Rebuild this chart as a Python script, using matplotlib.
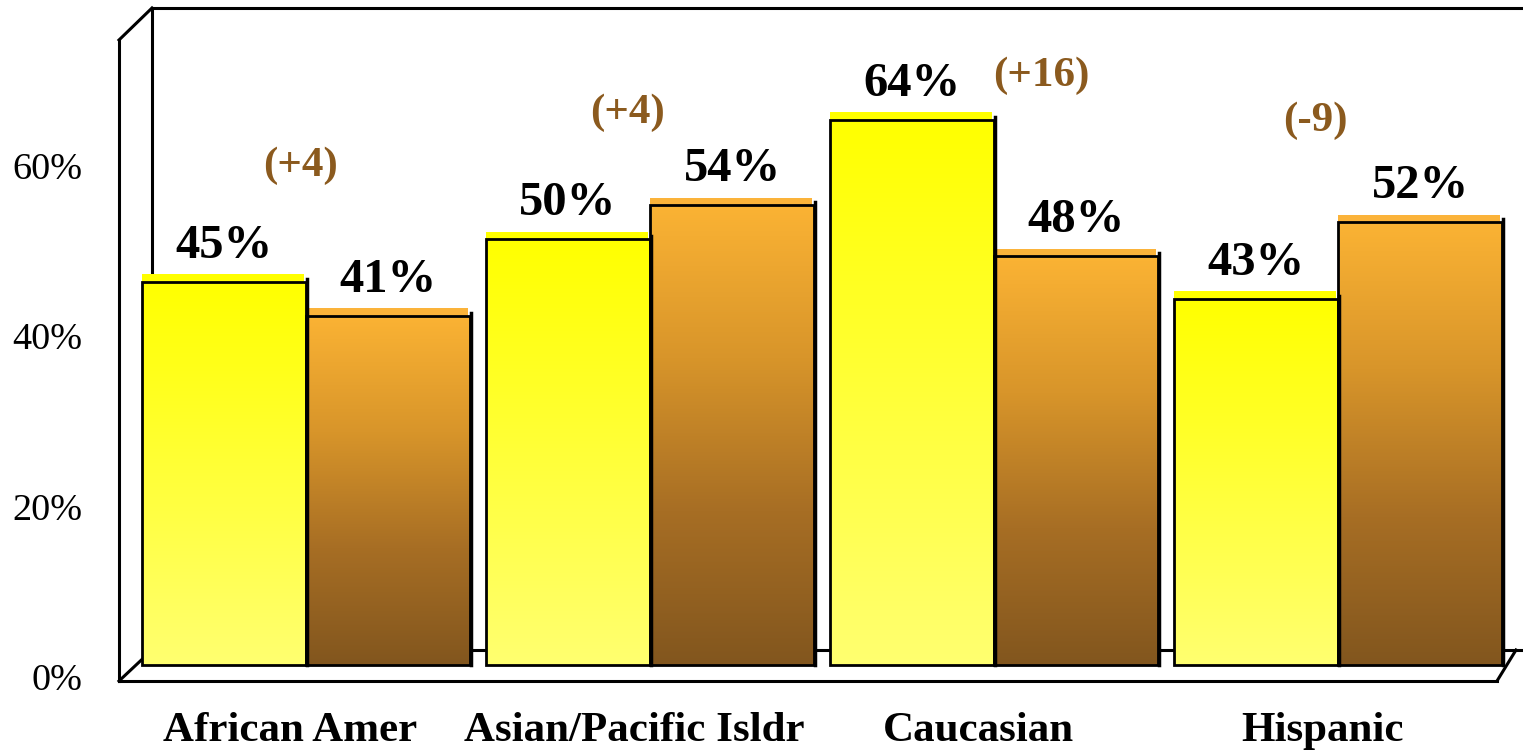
import matplotlib
matplotlib.use("Agg")
import matplotlib.pyplot as plt
import numpy as np
from matplotlib.colors import LinearSegmentedColormap

# data
categories = ["African Amer", "Asian/Pacific Isldr", "Caucasian", "Hispanic"]
series_a = [45, 50, 64, 43]   # yellow bars
series_b = [41, 54, 48, 52]   # orange/brown bars
changes = ["(+4)", "(+4)", "(+16)", "(-9)"]
y_ticks = [0, 20, 40, 60]

# layout: offsets of the change labels from each group centre (x in groups, y in %)
change_dx = [-0.017, -0.064, 0.137, -0.067]
change_y = [58.6, 64.8, 69.2, 63.9]

plt.rcParams['font.family'] = ['Liberation Serif', 'DejaVu Serif']

W, H = 1523, 750
fig = plt.figure(figsize=(W / 100, H / 100), dpi=100)
ax = fig.add_axes([0, 0, 1, 1])
ax.axis('off')

# pixel -> data helpers (one group = 344 px, 1% = 8.52 px)
GX0, GW = 306.0, 344.0
BY0, PPY = 665.0, 8.52


def X(px):
    return (px - GX0) / GW


def Y(py):
    return (BY0 - py) / PPY


depth_x = 16 / GW
depth_y = 16 / PPY
width = 164 / GW
x = np.arange(len(categories))

yellow_cmap = LinearSegmentedColormap.from_list("y", ["#ffff00", "#ffff70"])
brown_cmap = LinearSegmentedColormap.from_list("b", ["#fbb334", "#d8952a", "#a76e24", "#82561e"])
grad = np.linspace(0, 1, 256).reshape(-1, 1)

# walls and floor
lw = 2.2
frame = [
    [(152, 8), (1523, 8)],
    [(152, 8), (152, 650)],
    [(119, 40), (152, 8)],
    [(119, 40), (119, 681)],
    [(119, 681), (1497, 681)],
    [(119, 681), (152, 650)],
    [(152, 650), (1523, 650)],
    [(1497, 681), (1516, 650)],
]
for (xa, ya), (xb, yb) in frame:
    ax.plot([X(xa), X(xb)], [Y(ya), Y(yb)], color="black", lw=lw,
            solid_capstyle="projecting", zorder=1)


def draw_bars(pos, vals, cmap, top_color):
    bars = ax.bar(pos, vals, width=width, facecolor="none",
                  edgecolor="black", linewidth=2, zorder=4)
    for b, v in zip(bars, vals):
        x0 = b.get_x()
        img = ax.imshow(grad, extent=[x0, x0 + width, 0, v], origin="upper",
                        aspect="auto", cmap=cmap, zorder=3)
        img.set_clip_path(b)
        # dark right side
        ax.plot([x0 + width + 0.004, x0 + width + 0.004], [0, v + 0.3],
                color="black", lw=2.5, zorder=4)
    # thin top face
    ax.bar(np.array(pos) - 0.002, [0.85] * len(vals), bottom=vals,
           width=width - 0.006, color=top_color, linewidth=0, zorder=3)
    return bars


draw_bars(x - width / 2, series_a, yellow_cmap, "#ffff00")
draw_bars(x + width / 2, series_b, brown_cmap, "#fbb33a")

# value labels
for i in range(len(categories)):
    ax.text(x[i] - width / 2, series_a[i] + 4.2, "%d%%" % series_a[i],
            ha="center", va="center", fontsize=35, fontweight="bold", zorder=5)
    ax.text(x[i] + width / 2, series_b[i] + 4.2, "%d%%" % series_b[i],
            ha="center", va="center", fontsize=35, fontweight="bold", zorder=5)
    ax.text(x[i] + change_dx[i], change_y[i], changes[i], ha="center",
            va="center", fontsize=31, fontweight="bold", color="#8b5a1e",
            zorder=5)
    ax.text(x[i] - depth_x, Y(731), categories[i], ha="center", va="center",
            fontsize=31, fontweight="bold")

# y tick labels on the front plane
for t in y_ticks:
    ax.text(X(82), t - depth_y, "%d%%" % t, ha="right", va="center",
            fontsize=27.5)

ax.set_xlim(X(0), X(W))
ax.set_ylim(Y(H), Y(0))

fig.savefig("out.png", dpi=100)
